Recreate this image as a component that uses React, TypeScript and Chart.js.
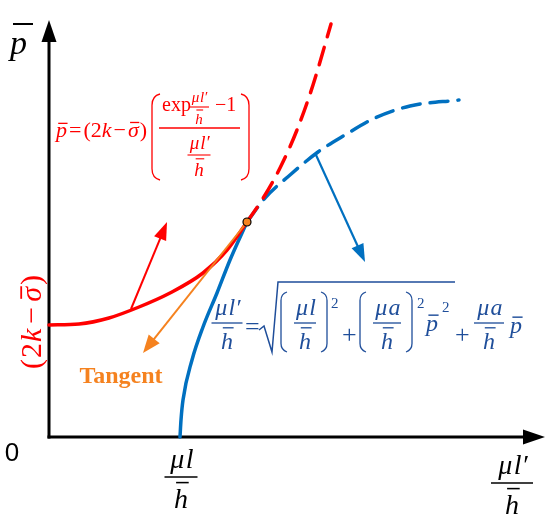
import React, { useEffect, useRef } from 'react';
import { Chart, registerables } from 'chart.js';
Chart.register(...registerables);

// Diagram units: origin at the axes' crossing, 1 unit ≈ 1 px
const redSolidX = [0, 30, 60, 90, 121, 154, 178, 198];
const redSolidY = [112, 113, 119, 130, 144, 164, 187, 215];
const redDashX = [198, 213, 231, 248, 264, 282];
const redDashY = [215, 237, 269, 307, 352, 413];
const blueSolidX = [131, 132, 134, 143, 154, 168, 181, 198];
const blueSolidY = [0, 17, 37, 77, 110, 144, 177, 215];
const blueDashX = [198, 216, 241, 269, 296, 326, 361, 410];
const blueDashY = [215, 239, 262, 285, 302, 319, 331, 337];
const tangentPoint = [198, 215];
const xAxisEnd = 496;
const yAxisEnd = 417;
// annotation arrows: [fromX, fromY, toX, toY]
const tangentArrow = [198, 215, 94, 84];
const redArrow = [82, 128, 118, 215];
const blueArrow = [267, 282, 316, 175];

const RED = '#FF0000';
const BLUE = '#0070C0';
const BLUE_TXT = '#1F4E9A';
const ORANGE = '#F5821F';
const SERIF = '"Liberation Serif", "Times New Roman", serif';

type Part = { s: string; it?: boolean; bar?: boolean; sup?: boolean; gap?: number; pre?: number; barH?: number; size?: number };

function pts(xs: number[], ys: number[]) {
  return xs.map((x, i) => ({ x, y: ys[i] }));
}

function hline(ctx: CanvasRenderingContext2D, x1: number, x2: number, y: number, w = 1.2) {
  ctx.save();
  ctx.lineWidth = w;
  ctx.beginPath();
  ctx.moveTo(x1, y);
  ctx.lineTo(x2, y);
  ctx.stroke();
  ctx.restore();
}

function setFont(ctx: CanvasRenderingContext2D, it: boolean | undefined, size: number, bold = false) {
  ctx.font = `${it ? 'italic ' : ''}${bold ? 'bold ' : ''}${size}px ${SERIF}`;
}

function widthOf(ctx: CanvasRenderingContext2D, parts: Part[], size: number) {
  let w = 0;
  for (const p of parts) {
    const fs = p.size ?? (p.sup ? size * 0.62 : size);
    setFont(ctx, p.it, fs);
    w += (p.pre || 0) + ctx.measureText(p.s).width + (p.gap || 0);
  }
  return w;
}

function seq(ctx: CanvasRenderingContext2D, parts: Part[], x: number, y: number, size: number) {
  let cx = x;
  ctx.textAlign = 'left';
  ctx.textBaseline = 'alphabetic';
  for (const p of parts) {
    const fs = p.size ?? (p.sup ? size * 0.62 : size);
    setFont(ctx, p.it, fs);
    cx += p.pre || 0;
    const w = ctx.measureText(p.s).width;
    const yy = p.sup ? y - size * 0.42 : y;
    ctx.fillText(p.s, cx, yy);
    if (p.bar) {
      const bh = p.barH ?? 0.62;
      hline(ctx, cx + w * 0.2, cx + w * 1.05, yy - fs * bh, Math.max(1, fs * 0.06));
    }
    cx += w + (p.gap || 0);
  }
  return cx;
}

function mu(rest: string, size: number): Part[] {
  return [
    { s: 'μ', it: true, gap: size * 0.05 },
    { s: rest, it: true, gap: size * 0.03 },
  ];
}

// fraction with denominator h̄
function fracH(ctx: CanvasRenderingContext2D, num: Part[], cx: number, barY: number, size: number, barW: number) {
  const wn = widthOf(ctx, num, size);
  seq(ctx, num, cx - wn / 2 + size * 0.05, barY - size * 0.32, size);
  hline(ctx, cx - barW / 2, cx + barW / 2, barY, Math.max(1.1, size * 0.055));
  setFont(ctx, true, size);
  const wh = ctx.measureText('h').width;
  const hx = cx - wh / 2;
  ctx.textAlign = 'left';
  ctx.fillText('h', hx, barY + size * 1.1);
  hline(ctx, hx + wh * 0.15, hx + wh * 1.05, barY + size * 0.2, Math.max(1.1, size * 0.055));
}

function paren(ctx: CanvasRenderingContext2D, x: number, y1: number, y2: number, dir: number, r: number) {
  ctx.save();
  ctx.lineWidth = 1.3;
  ctx.beginPath();
  ctx.moveTo(x + dir * r, y1);
  ctx.quadraticCurveTo(x, y1 + 2, x, y1 + r * 1.4);
  ctx.lineTo(x, y2 - r * 1.4);
  ctx.quadraticCurveTo(x, y2 - 2, x + dir * r, y2);
  ctx.stroke();
  ctx.restore();
}

function arrowHead(ctx: CanvasRenderingContext2D, x1: number, y1: number, x2: number, y2: number, len: number, half: number) {
  const a = Math.atan2(y2 - y1, x2 - x1);
  ctx.beginPath();
  ctx.moveTo(x2, y2);
  ctx.lineTo(x2 - len * Math.cos(a) + half * Math.sin(a), y2 - len * Math.sin(a) - half * Math.cos(a));
  ctx.lineTo(x2 - len * Math.cos(a) - half * Math.sin(a), y2 - len * Math.sin(a) + half * Math.cos(a));
  ctx.closePath();
  ctx.fill();
}

function arrow(ctx: CanvasRenderingContext2D, x1: number, y1: number, x2: number, y2: number, color: string, w: number, len: number, half: number) {
  ctx.save();
  ctx.strokeStyle = color;
  ctx.fillStyle = color;
  ctx.lineWidth = w;
  const a = Math.atan2(y2 - y1, x2 - x1);
  ctx.beginPath();
  ctx.moveTo(x1, y1);
  ctx.lineTo(x2 - (len - 2) * Math.cos(a), y2 - (len - 2) * Math.sin(a));
  ctx.stroke();
  arrowHead(ctx, x1, y1, x2, y2, len, half);
  ctx.restore();
}

const overlay = {
  id: 'overlay',
  beforeDatasetsDraw(chart: any) {
    const ctx: CanvasRenderingContext2D = chart.ctx;
    const xs = chart.scales.x;
    const ys = chart.scales.y;
    const ox = xs.getPixelForValue(0);
    const oy = ys.getPixelForValue(0);
    const ex = xs.getPixelForValue(xAxisEnd);
    const ey = ys.getPixelForValue(yAxisEnd);
    arrow(ctx, ox - 1.5, oy, ex, oy, '#000', 3, 22, 7.5);
    arrow(ctx, ox, oy + 1.5, ox, ey, '#000', 3, 22, 7.5);
  },
  afterDatasetsDraw(chart: any) {
    const ctx: CanvasRenderingContext2D = chart.ctx;
    const xs = chart.scales.x;
    const ys = chart.scales.y;
    const P = (a: number[]) => [xs.getPixelForValue(a[0]), ys.getPixelForValue(a[1]), xs.getPixelForValue(a[2]), ys.getPixelForValue(a[3])];

    let t = P(tangentArrow);
    arrow(ctx, t[0], t[1], t[2], t[3], ORANGE, 2, 18, 7);
    t = P(redArrow);
    arrow(ctx, t[0], t[1], t[2], t[3], RED, 2, 18, 6.5);
    t = P(blueArrow);
    arrow(ctx, t[0], t[1], t[2], t[3], BLUE, 2.2, 18, 6.5);

    // tangent point marker
    ctx.save();
    ctx.fillStyle = ORANGE;
    ctx.strokeStyle = '#000';
    ctx.lineWidth = 1.2;
    ctx.beginPath();
    ctx.arc(xs.getPixelForValue(tangentPoint[0]), ys.getPixelForValue(tangentPoint[1]), 4, 0, Math.PI * 2);
    ctx.fill();
    ctx.stroke();
    ctx.restore();

    // ---- texts ----
    ctx.save();
    ctx.fillStyle = '#000';
    ctx.strokeStyle = '#000';
    // y axis label p̄
    seq(ctx, [{ s: 'p', it: true }], 10, 54, 34);
    hline(ctx, 13, 33, 24, 2);
    // origin 0
    ctx.font = '26px "Liberation Sans", Arial, sans-serif';
    ctx.textAlign = 'center';
    ctx.fillText('0', 12, 461);
    // x tick label μl / h̄
    fracH(ctx, mu('l', 28), 181, 477, 28, 33);
    // x axis title μl′ / h̄
    fracH(ctx, mu('l′', 28), 512, 483, 28, 42);

    // Tangent
    ctx.fillStyle = ORANGE;
    setFont(ctx, false, 24, true);
    ctx.textAlign = 'center';
    ctx.fillText('Tangent', 121, 383);

    // Vertical red label (2k − σ̄)
    ctx.fillStyle = RED;
    ctx.strokeStyle = RED;
    ctx.save();
    ctx.translate(41, 322);
    ctx.rotate(-Math.PI / 2);
    const vparts: Part[] = [
      { s: '(', it: false, gap: 1 },
      { s: '2', it: false, gap: 1 },
      { s: 'k', it: true, gap: 5 },
      { s: '−', it: false, gap: 5 },
      { s: 'σ', it: true, bar: true, barH: 0.66, gap: 2 },
      { s: ')', it: false },
    ];
    const vw = widthOf(ctx, vparts, 30);
    seq(ctx, vparts, -vw / 2, 0, 30);
    ctx.restore();

    // Red formula
    seq(ctx, [
      { s: 'p', it: true, bar: true, barH: 0.62, gap: 2 },
      { s: '=', it: false, gap: 2 },
      { s: '(', it: false },
      { s: '2', it: false },
      { s: 'k', it: true, gap: 2 },
      { s: '−', it: false, gap: 2 },
      { s: 'σ', it: true, bar: true, barH: 0.66, gap: 1 },
      { s: ')', it: false },
    ], 56, 137, 22);
    paren(ctx, 152, 94, 180, 1, 8);
    paren(ctx, 249, 94, 180, -1, 8);
    seq(ctx, [{ s: 'exp', it: false }], 162, 111, 20);
    fracH(ctx, mu('l′', 15), 199, 107, 15, 20);
    seq(ctx, [{ s: '−1', it: false }], 215, 111, 20);
    hline(ctx, 159, 240, 128, 1.3);
    fracH(ctx, mu('l′', 19), 199, 155, 19, 23);

    // Blue formula
    ctx.fillStyle = BLUE_TXT;
    ctx.strokeStyle = BLUE_TXT;
    const fs = 24;
    fracH(ctx, mu('l′', fs), 227, 323, fs, 31);
    seq(ctx, [{ s: '=' }], 245, 335, 26);
    ctx.save();
    ctx.lineWidth = 1.5;
    ctx.beginPath();
    ctx.moveTo(259, 330);
    ctx.lineTo(264, 326);
    ctx.lineTo(272, 352);
    ctx.lineTo(278, 282);
    ctx.lineTo(455, 282);
    ctx.stroke();
    ctx.restore();
    paren(ctx, 281, 292, 352, 1, 6);
    fracH(ctx, mu('l', fs), 305, 323, fs, 22);
    paren(ctx, 327, 292, 352, -1, 6);
    seq(ctx, [{ s: '2' }], 331, 308, 15);
    seq(ctx, [{ s: '+' }], 342, 343, 26);
    paren(ctx, 360, 292, 352, 1, 6);
    fracH(ctx, mu('a', fs), 387, 323, fs, 28);
    paren(ctx, 412, 292, 352, -1, 6);
    seq(ctx, [{ s: '2' }], 417, 308, 15);
    seq(ctx, [{ s: 'p', it: true, bar: true, barH: 0.66 }], 426, 331, fs);
    seq(ctx, [{ s: '2' }], 442, 312, 15);
    seq(ctx, [{ s: '+' }], 455, 343, 26);
    fracH(ctx, mu('a', fs), 489, 323, fs, 30);
    seq(ctx, [{ s: 'p', it: true, bar: true, barH: 0.66 }], 510, 333, fs);
    ctx.restore();
  },
};

export default function App() {
  const ref = useRef<HTMLCanvasElement | null>(null);
  useEffect(() => {
    if (!ref.current) return;
    const line = (data: any, color: string, dash: number[] = []) => ({
      data,
      showLine: true,
      borderColor: color,
      borderWidth: 3.5,
      borderDash: dash,
      borderCapStyle: 'round',
      pointRadius: 0,
      cubicInterpolationMode: 'monotone',
      fill: false,
    });
    const chart = new Chart(ref.current, {
      type: 'scatter',
      data: {
        datasets: [
          line(pts(redSolidX, redSolidY), RED),
          line(pts(redDashX, redDashY), RED, [18, 11]),
          line(pts(blueSolidX, blueSolidY), BLUE),
          line(pts(blueDashX, blueDashY), BLUE, [18, 10]),
        ] as any,
      },
      options: {
        animation: false,
        responsive: false,
        events: [],
        layout: { padding: 0 },
        plugins: { legend: { display: false }, tooltip: { enabled: false } },
        scales: {
          x: { type: 'linear', min: -49, max: 501, display: false },
          y: { type: 'linear', min: -87, max: 437, display: false },
        },
      },
      plugins: [overlay],
    });
    return () => chart.destroy();
  }, []);
  return (
    <div style={{ position: 'fixed', left: 0, top: 0, width: 550, height: 524, background: '#fff' }}>
      <canvas ref={ref} width={550} height={524} />
    </div>
  );
}
